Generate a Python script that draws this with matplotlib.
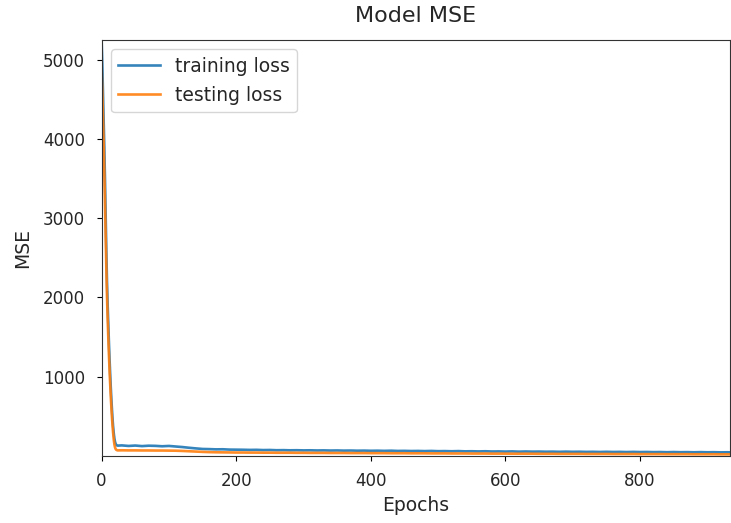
import matplotlib
matplotlib.use("Agg")
import matplotlib.pyplot as plt

# first epochs, one value per epoch (steep drop)
head_epochs = list(range(0, 25))
train_head = [5253, 4950, 4600, 4250, 3900, 3500, 3050, 2600, 2200, 1900,
              1650, 1400, 1180, 980, 800, 640, 500, 380, 290, 220,
              175, 150, 138, 132, 130]
test_head = [4900, 4620, 4300, 3960, 3600, 3200, 2780, 2380, 2020, 1730,
             1480, 1250, 1040, 860, 690, 540, 410, 300, 210, 145,
             105, 85, 76, 72, 70]

# rest of training, read every 10 epochs
tail_epochs = list(range(30, 931, 10)) + [934]
train_tail = [133, 126, 131, 124, 129, 127, 122, 126, 119, 112,
              103, 95, 88, 86, 83, 84, 80, 79, 78, 76,
              77, 74, 75, 72, 73, 71, 72, 70, 71, 69,
              70, 68, 69, 67, 68, 66, 67, 65, 66, 64,
              66, 63, 64, 62, 63, 61, 63, 60, 61, 59,
              61, 58, 59, 57, 59, 56, 57, 55, 57, 54,
              56, 54, 55, 53, 54, 52, 54, 52, 53, 51,
              52, 50, 52, 50, 51, 49, 51, 49, 50, 48,
              49, 47, 49, 47, 48, 46, 48, 46, 47, 45,
              46, 45]
test_tail = [71, 70, 70, 69, 69, 68, 68, 67, 66, 63,
             59, 55, 51, 48, 46, 45, 44, 43, 43, 42,
             42, 41, 41, 40, 40, 40, 39, 39, 38, 38,
             38, 37, 37, 37, 36, 36, 36, 35, 35, 35,
             34, 34, 34, 33, 33, 33, 32, 32, 32, 31,
             31, 31, 30, 30, 30, 29, 29, 29, 28, 28,
             28, 28, 27, 27, 27, 26, 26, 26, 26, 25,
             25, 25, 25, 24, 24, 24, 24, 23, 23, 23,
             23, 22, 22, 22, 22, 21, 21, 21, 21, 20,
             20, 20]

epochs = head_epochs + tail_epochs
train_loss = train_head + train_tail
test_loss = test_head + test_tail

text_col = "#262626"

fig = plt.figure(figsize=(7.31, 5.23), dpi=100)
ax = fig.add_axes([0.139, 0.129, 0.860, 0.795])

ax.plot(epochs, train_loss, label="training loss", alpha=0.9, lw=1.9)
ax.plot(epochs, test_loss, label="testing loss", alpha=0.9, lw=1.9)

ax.set_xlim(0, 934)
ax.set_ylim(5, 5253)
ax.set_xticks([0, 200, 400, 600, 800])
ax.set_yticks([1000, 2000, 3000, 4000, 5000])
ax.tick_params(axis="y", labelsize=12, pad=8.5, labelcolor=text_col)
ax.tick_params(axis="x", labelsize=12, pad=8.5, labelcolor=text_col)
for s in ax.spines.values():
    s.set_color("#333333")

ax.set_title("Model MSE", fontsize=16, pad=13, color=text_col)
ax.set_xlabel("Epochs", fontsize=13.5, labelpad=4, color=text_col)
ax.set_ylabel("MSE", fontsize=13.5, labelpad=8, color=text_col)
leg = ax.legend(loc="upper left", fontsize=13.5, borderaxespad=0.5,
                handlelength=2.2, labelspacing=0.55)
for t in leg.get_texts():
    t.set_color(text_col)

fig.savefig("out.png", dpi=100)
